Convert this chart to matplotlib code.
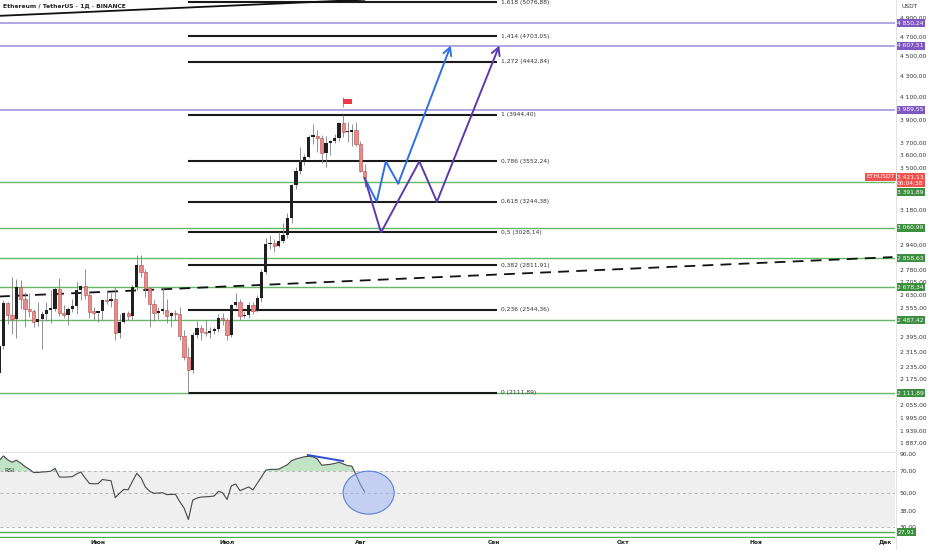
import numpy as np
import pandas as pd
import matplotlib
matplotlib.use('Agg')
import matplotlib.pyplot as plt
import matplotlib.dates as mdates
from matplotlib.patches import Ellipse
from matplotlib.transforms import blended_transform_factory
from matplotlib.ticker import FuncFormatter, NullLocator

# ---- data (ETHUSDT, daily) ----
start_date = '2025-05-09'
opens = [2207, 2345, 2583, 2514, 2494, 2680, 2610, 2547, 2540, 2475, 2495, 2523, 2545, 2550, 2665, 2525,
         2515, 2550, 2565, 2663, 2682, 2632, 2530, 2528, 2538, 2600, 2593, 2610, 2415, 2475, 2525, 2510,
         2680, 2815, 2770, 2670, 2580, 2525, 2540, 2545, 2510, 2525, 2520, 2400, 2290, 2225, 2405, 2445,
         2420, 2415, 2425, 2435, 2500, 2485, 2405, 2570, 2590, 2510, 2515, 2570, 2540, 2615, 2770, 2950,
         2960, 2940, 2970, 3010, 3130, 3370, 3475, 3545, 3590, 3755, 3760, 3745, 3620, 3705, 3715, 3745,
         3870, 3795, 3795, 3810, 3695, 3480]
highs = [2390, 2600, 2592, 2738, 2725, 2723, 2650, 2645, 2552, 2590, 2540, 2590, 2660, 2680, 2735, 2570,
         2560, 2605, 2710, 2690, 2788, 2655, 2560, 2540, 2610, 2660, 2640, 2680, 2520, 2530, 2540, 2690,
         2880, 2880, 2790, 2680, 2600, 2560, 2680, 2610, 2530, 2545, 2560, 2430, 2340, 2420, 2480, 2460,
         2490, 2450, 2450, 2520, 2525, 2500, 2580, 2640, 2610, 2540, 2590, 2590, 2630, 2790, 2990, 3010,
         2985, 3030, 3090, 3160, 3380, 3510, 3670, 3610, 3770, 3860, 3810, 3770, 3760, 3730, 3780, 3880,
         3944, 3880, 3865, 3880, 3720, 3530]
lows = [2160, 2330, 2467, 2410, 2388, 2550, 2450, 2506, 2450, 2452, 2330, 2480, 2470, 2538, 2510, 2500,
        2460, 2530, 2520, 2600, 2610, 2500, 2490, 2475, 2490, 2580, 2560, 2380, 2390, 2470, 2490, 2490,
        2660, 2740, 2620, 2450, 2480, 2495, 2520, 2470, 2450, 2490, 2380, 2275, 2112, 2210, 2390, 2380,
        2400, 2390, 2410, 2420, 2460, 2380, 2395, 2560, 2490, 2500, 2500, 2520, 2530, 2590, 2760, 2920,
        2900, 2930, 2960, 2990, 3090, 3340, 3450, 3520, 3580, 3690, 3630, 3540, 3510, 3600, 3700, 3720,
        3750, 3710, 3680, 3680, 3470, 3355]
closes = [2345, 2583, 2514, 2494, 2680, 2610, 2547, 2540, 2475, 2495, 2523, 2545, 2550, 2665, 2525, 2515,
          2550, 2565, 2663, 2682, 2632, 2530, 2528, 2538, 2600, 2593, 2610, 2415, 2475, 2525, 2510, 2680,
          2815, 2770, 2670, 2580, 2525, 2540, 2545, 2510, 2525, 2520, 2400, 2290, 2225, 2405, 2445, 2420,
          2415, 2425, 2435, 2500, 2485, 2405, 2570, 2590, 2510, 2515, 2570, 2540, 2615, 2770, 2950, 2960,
          2940, 2970, 3010, 3130, 3370, 3475, 3545, 3590, 3755, 3760, 3745, 3620, 3705, 3715, 3745, 3870,
          3795, 3795, 3810, 3695, 3480, 3421.13]
rsi = [82, 88, 83, 80, 82.5, 79, 75, 72, 68.5, 68.5, 69, 69.3, 69.8, 73, 64, 63.8,
       64, 64.3, 67, 69, 63, 58, 57.7, 57.8, 61.6, 61, 60.5, 46.8, 50, 53, 52.7, 60,
       67.6, 63, 55, 51.5, 50, 50.2, 50.4, 49, 49.1, 49.2, 44, 40, 33.6, 45, 46.5, 47.2,
       47.4, 47.6, 48, 51.5, 50.3, 45.5, 56, 57.5, 52, 53.5, 55, 52.7, 58, 64, 71, 71.8,
       71.8, 72, 74.5, 77, 82, 84, 85.5, 87, 87.5, 86.8, 84, 76.5, 77, 77.5, 78.5, 80,
       78, 76, 75.5, 66, 57, 51]

fib_ratios = ['1,618', '1,414', '1,272', '1', '0,786', '0,618', '0,5', '0,382', '0,236', '0']
fib_prices = [5076.88, 4703.05, 4442.84, 3944.40, 3552.24, 3244.38, 3028.14, 2811.91, 2544.36, 2111.89]
fib_start, fib_end = '2025-06-22 00:00', '2025-09-01 19:00'

purple_levels = [4850.24, 4607.51, 3989.55]
green_levels = [3391.89, 3060.99, 2858.63, 2678.34, 2487.42, 2111.89]
price_ticks = [4900, 4700, 4500, 4300, 4100, 3900, 3700, 3600, 3500, 3180, 2940, 2780, 2705,
               2630, 2555, 2395, 2315, 2235, 2175, 2055, 1995, 1939, 1887]
last_price, countdown = 3421.13, '06:04:38'

dash_line_dates = ['2025-05-08 19:00', '2025-12-02 17:00']
dash_line_prices = [2622, 2865]
top_line_dates = ['2025-05-08 19:00', '2025-08-01 22:00']
top_line_prices = [4926, 5108]

blue_dates = ['2025-08-02 00:00', '2025-08-04 19:00', '2025-08-06 22:00', '2025-08-09 19:00', '2025-08-22 00:00']
blue_prices = [3421.13, 3244.38, 3552.24, 3380, 4607.51]
violet_dates = ['2025-08-02 00:00', '2025-08-05 19:00', '2025-08-14 17:00', '2025-08-18 19:00', '2025-09-02 07:00']
violet_prices = [3421.13, 3028.14, 3552.24, 3244.38, 4607.51]

flag_date, flag_low, flag_high = '2025-07-28 00:00', 4012, 4108

rsi_levels = [70, 50, 30]
rsi_ticks = [90, 70, 50, 38, 30]
rsi_green = [27.91, 25.7]
div_dates = ['2025-07-19 19:00', '2025-07-28 00:00']
div_values = [89.2, 81.4]
circle_date, circle_value = '2025-08-02 22:00', 50.5

months_ru = {1: 'Янв', 2: 'Фев', 3: 'Мар', 4: 'Апр', 5: 'Май', 6: 'Июн', 7: 'Июл',
             8: 'Авг', 9: 'Сен', 10: 'Окт', 11: 'Ноя', 12: 'Дек'}


def fmt(v):
    return f'{v:,.2f}'.replace(',', ' ').replace('.', ',')


def dnum(d):
    return mdates.date2num(pd.to_datetime(d, format='%Y-%m-%d %H:%M'))


W, H = 932, 550
fig = plt.figure(figsize=(W / 100, H / 100), dpi=100)
fig.patch.set_facecolor('white')
plot_w = 895 / W
ax = fig.add_axes([0, 1 - 452 / H, plot_w, 452 / H])
ax_r = fig.add_axes([0, 12 / H, plot_w, 86 / H], sharex=ax)

days = pd.date_range(start_date, periods=len(closes), freq='D')
x = mdates.date2num(days)
o, h, l, c = map(np.array, (opens, highs, lows, closes))

june1 = mdates.date2num(pd.Timestamp('2025-06-01'))
ax.set_xlim(june1 - 22.8, june1 + 185.3)
ax.set_yscale('log')
ax.set_ylim(1849, 5105)
ax.axis('off')

# horizontal levels
for p in purple_levels:
    ax.axhline(p, color='#9d8fda', lw=1.1, zorder=1)
for p in green_levels:
    ax.axhline(p, color='#66b868', lw=1.0, zorder=1)

# fib retracement
fs, fe = dnum(fib_start), dnum(fib_end)
ax.hlines(fib_prices, fs, fe, color='#1a1a1a', lw=1.5, zorder=2)
for r, p in zip(fib_ratios, fib_prices):
    ax.text(fe + 0.8, p, f'{r} ({fmt(p).replace(" ", "")})', fontsize=4.3, color='#333333',
            va='center', ha='left', zorder=6)

# trend lines
ax.plot(dnum(dash_line_dates), dash_line_prices, color='#111111',
        lw=1.3, ls=(0, (6, 4)), zorder=2)
ax.plot(dnum(top_line_dates), top_line_prices, color='#111111', lw=1.3, zorder=2)

# candles
up = c >= o
lo_b, hi_b = np.minimum(o, c), np.maximum(o, c)
hgt = np.maximum(hi_b - lo_b, lo_b * 0.003)
ax.vlines(x, l, h, color='#808080', lw=0.6, zorder=3)
ax.bar(x[up], hgt[up], bottom=lo_b[up], width=0.75, color='#202020', lw=0, zorder=4)
ax.bar(x[~up], hgt[~up], bottom=lo_b[~up], width=0.75, color='#e98a8a',
       edgecolor='#b84a4a', lw=0.4, zorder=4)

# flag
fx = dnum(flag_date)
ax.vlines(fx, flag_low, flag_high, color='#999999', lw=0.8, zorder=5)
ax.fill([fx, fx + 2.1, fx + 2.1, fx], [4045, 4045, 4090, 4090], color='#f23645', lw=0, zorder=5)

# projected paths
for dts, prs, col in [(blue_dates, blue_prices, '#2f6fe6'), (violet_dates, violet_prices, '#5b3bb0')]:
    px = dnum(dts)
    ax.plot(px[:-1], prs[:-1], color=col, lw=1.4, zorder=6, solid_joinstyle='miter')
    ax.annotate('', xy=(px[-1], prs[-1]), xytext=(px[-2], prs[-2]),
                arrowprops=dict(arrowstyle='->,head_length=0.55,head_width=0.3', color=col,
                                lw=1.4, shrinkA=0, shrinkB=0), zorder=6)

# price scale
tr = blended_transform_factory(fig.transFigure, ax.transData)
for p in price_ticks:
    ax.text(900 / W, p, fmt(p), transform=tr, fontsize=4.3, color='#333333', va='center',
            ha='left', clip_on=False)


def box_label(axis, value, text, color, dy=0, xpix=897):
    axis.annotate(text, xy=(xpix / W, value), xycoords=blended_transform_factory(fig.transFigure, axis.transData),
                  xytext=(0, dy), textcoords='offset points', fontsize=4.3, color='white',
                  va='center', ha='left', annotation_clip=False, linespacing=1.25,
                  bbox=dict(boxstyle='square,pad=0.25', fc=color, ec='none'), zorder=10)


for p in purple_levels:
    box_label(ax, p, fmt(p), '#7e57c2')
for p in green_levels[1:]:
    box_label(ax, p, fmt(p), '#3b8f3e')
box_label(ax, last_price, fmt(last_price) + '\n' + countdown, '#ef5350', dy=-1.5)
box_label(ax, green_levels[0], fmt(green_levels[0]), '#3b8f3e', dy=-7.5)
box_label(ax, last_price, 'ETHUSDT', '#ef5350', dy=1.0, xpix=866)

fig.text(3 / W, 1 - 6 / H, 'Ethereum / TetherUS · 1Д · BINANCE', fontsize=4.3, color='#222222',
         fontweight='bold', va='center', ha='left')
fig.text(902 / W, 1 - 6 / H, 'USDT', fontsize=4.3, color='#333333', va='center', ha='left')

# ---- RSI pane ----
ax_r.set_yscale('log')
ax_r.set_ylim(25.4, 93.4)
ax_r.axhspan(30, 70, color='#efefef', lw=0, zorder=0)
for v in rsi_levels:
    ax_r.axhline(v, color='#b5b5b5', lw=0.7, ls=(0, (3, 3)), zorder=1)
for v in rsi_green:
    ax_r.axhline(v, color='#4caf50', lw=1.0, zorder=1)
rv = np.array(rsi)
ax_r.fill_between(x, rv, 70, where=rv > 70, interpolate=True, color='#8fd095', alpha=0.55, lw=0, zorder=2)
ax_r.plot(x, rv, color='#474747', lw=0.8, zorder=3)
ax_r.plot(dnum(div_dates), div_values, color='#2d4fd0', lw=1.4, zorder=4)

ax_r.set_xlim(june1 - 22.8, june1 + 185.3)
cx, cy = ax_r.transAxes.inverted().transform(
    ax_r.transData.transform((dnum(circle_date), circle_value)))
ax_r.add_patch(Ellipse((cx, cy), 51 / 895, 43 / 86, transform=ax_r.transAxes,
                       fc=(0.6, 0.7, 0.96, 0.5), ec='#5b7fe0', lw=0.8, zorder=5))
ax_r.text(4 / 895, 0.78, 'RSI', transform=ax_r.transAxes, fontsize=4.5, color='#333333', va='center')

tr_r = blended_transform_factory(fig.transFigure, ax_r.transData)
for v in rsi_ticks:
    ax_r.text(900 / W, v, fmt(v), transform=tr_r, fontsize=4.3, color='#333333', va='center',
              ha='left', clip_on=False)
box_label(ax_r, rsi_green[0], fmt(rsi_green[0]), '#3b8f3e')

for s in ax_r.spines.values():
    s.set_visible(False)
ax_r.spines['top'].set_visible(True)
ax_r.spines['top'].set_color('#e6e6e6')
ax_r.yaxis.set_major_locator(NullLocator())
ax_r.yaxis.set_minor_locator(NullLocator())
ax_r.xaxis.set_major_locator(mdates.MonthLocator())
ax_r.xaxis.set_major_formatter(FuncFormatter(lambda v, pos: months_ru[mdates.num2date(v).month]))
ax_r.tick_params(axis='x', length=0, pad=1.5, labelsize=4.3, labelcolor='#222222')
for lb in ax_r.get_xticklabels():
    lb.set_fontweight('bold')

# price-scale separator
fig.add_artist(plt.Line2D([895.5 / W, 895.5 / W], [0, 1], color='#e3e3e3', lw=0.8))

fig.savefig('out.png', dpi=100, facecolor='white')
